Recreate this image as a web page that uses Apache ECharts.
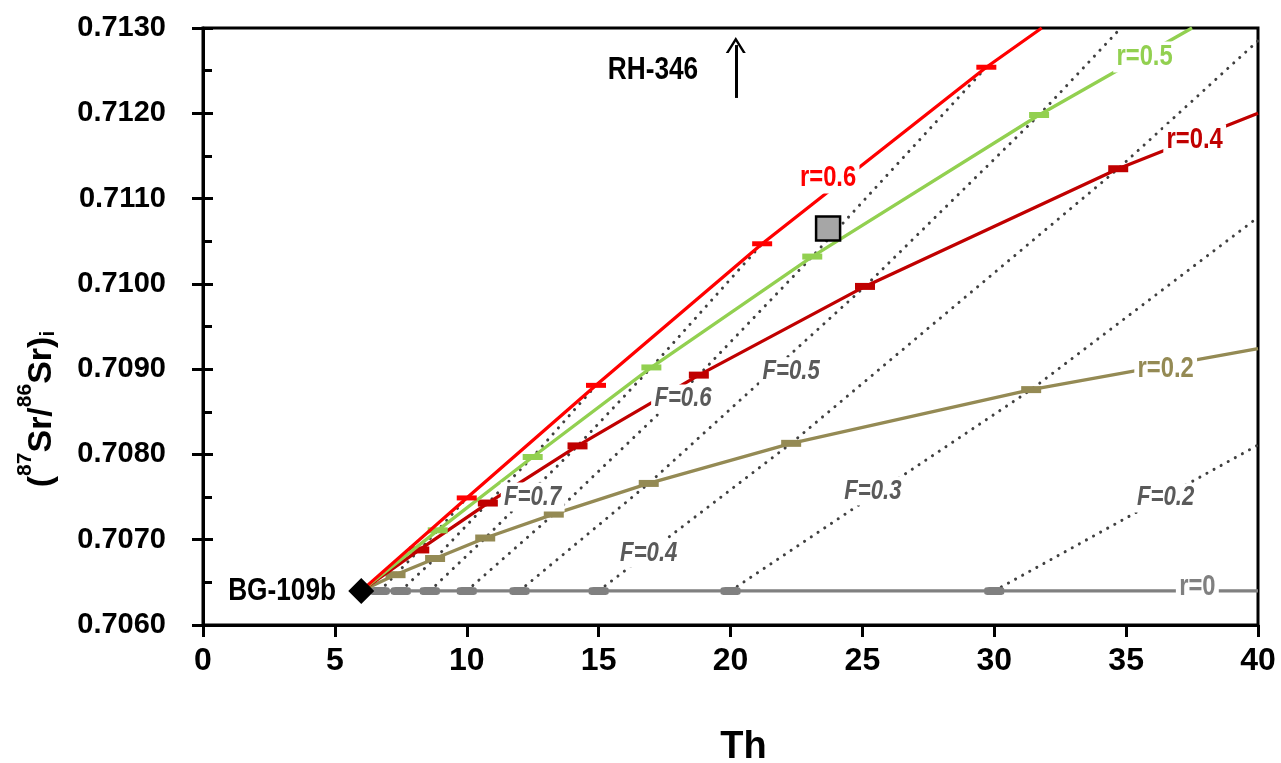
<!DOCTYPE html>
<html><head><meta charset="utf-8">
<script src="https://cdn.jsdelivr.net/npm/echarts/dist/echarts.min.js"></script>
<style>html,body{margin:0;padding:0;background:#fff}#c{width:1281px;height:763px}</style>
</head><body><div id="c"></div>
<script>
// ---------------- data ----------------
const F_LEVELS = ['0.9','0.8','0.7','0.6','0.5','0.4','0.3','0.2'];
const startTh = 6.0, startSr = 0.7064;           // BG-109b
// F tick marks on each AFC curve (index = F level above)
const r0Th  = [6.7, 7.5, 8.6, 10.0, 12.0, 15.0, 20.0, 30.0];
const r0Sr  = [0.7064, 0.7064, 0.7064, 0.7064, 0.7064, 0.7064, 0.7064, 0.7064];
const r02Th = [7.3, 8.8, 10.7, 13.3, 16.9, 22.3, 31.4];
const r02Sr = [0.70659, 0.70678, 0.70702, 0.70730, 0.70766, 0.70813, 0.70876];
const r04Th = [8.2, 10.8, 14.2, 18.8, 25.1, 34.7];
const r04Sr = [0.70688, 0.70743, 0.70810, 0.70893, 0.70997, 0.71135];
const r05Th = [8.9, 12.5, 17.0, 23.1, 31.7];
const r05Sr = [0.70711, 0.70797, 0.70902, 0.71032, 0.71198];
const r06Th = [10.0, 14.9, 21.2, 29.7];
const r06Sr = [0.70749, 0.70881, 0.71047, 0.71254];
// where each curve leaves the frame
const curveEndTh = [40, 40, 40, 37.5, 31.8];
const curveEndSr = [0.7064, 0.70924, 0.71200, 0.7130, 0.7130];
// where F isopleths leave the frame (null = ends on r=0.6 curve)
const isoEndTh = [null, null, null, null, 34.8, 40, 40, 40];
const isoEndSr = [null, null, null, null, 0.7130, 0.71285, 0.71078, 0.70811];
// samples
const rh346 = [23.7, 0.71065];
const xTicks = [0, 5, 10, 15, 20, 25, 30, 35, 40];
const yTicks = [0.7060, 0.7070, 0.7080, 0.7090, 0.7100, 0.7110, 0.7120, 0.7130];
// annotation anchor points
const rLabels = [['r=0', 37.7, 0.70645], ['r=0.2', 36.5, 0.70900], ['r=0.4', 37.6, 0.71169], ['r=0.5', 35.7, 0.71266], ['r=0.6', 23.7, 0.71124]];
const fLabels = [['F=0.7', 12.5, 0.70750], ['F=0.6', 18.2, 0.70865], ['F=0.5', 22.3, 0.70897], ['F=0.4', 16.9, 0.70684], ['F=0.3', 25.4, 0.70757], ['F=0.2', 36.5, 0.70749]];
const sampleLabels = [['BG-109b', 3.0, 0.7064], ['RH-346', 17.06, 0.71251]];
const arrowTh = 20.2, arrowSr = [0.71218, 0.71280];

// ---------------- styling ----------------
const SANS = "'Liberation Sans',Arial,sans-serif";
const NARROW_SCALE = 0.82;   // emulate a condensed face
const curves = [
  {name:'r=0',   th:r0Th,  sr:r0Sr,  color:'#808080', sym:'roundRect', size:[20,8]},
  {name:'r=0.2', th:r02Th, sr:r02Sr, color:'#948A54', sym:'rect', size:[20,7]},
  {name:'r=0.4', th:r04Th, sr:r04Sr, color:'#C00000', sym:'rect', size:[20,7]},
  {name:'r=0.5', th:r05Th, sr:r05Sr, color:'#92D050', sym:'rect', size:[20,6]},
  {name:'r=0.6', th:r06Th, sr:r06Sr, color:'#FF0000', sym:'rect', size:[20,5]}
];
const pts = (th, sr) => th.map((t, i) => [t, sr[i]]);

const series = [];
F_LEVELS.forEach((f, i) => {
  const d = [];
  curves.forEach(c => { if (c.th[i] !== undefined) d.push([c.th[i], c.sr[i]]); });
  if (isoEndTh[i] !== null) d.push([isoEndTh[i], isoEndSr[i]]);
  series.push({type:'line', name:'F='+f, data:d, symbol:'none', silent:true, z:2,
    lineStyle:{color:'#404040', width:3, type:[0.1, 8], cap:'round'}});
});
curves.forEach((c, k) => {
  series.push({type:'line', name:c.name, data:[[startTh, startSr]].concat(pts(c.th, c.sr), [[curveEndTh[k], curveEndSr[k]]]),
    symbol:'none', z:3 + k, lineStyle:{color:c.color, width:3.3}});
  series.push({type:'scatter', data:pts(c.th, c.sr), symbol:c.sym, symbolSize:c.size, z:3 + k,
    itemStyle:{color:c.color, opacity:1}});
});
series.push({type:'scatter', data:[[startTh, startSr]], symbol:'diamond', symbolSize:26, z:20, itemStyle:{color:'#000', opacity:1}});
series.push({type:'scatter', data:[rh346], symbol:'rect', symbolSize:24, z:20,
  itemStyle:{color:'#A6A6A6', borderColor:'#000', borderWidth:2.5, opacity:1}});
// arrow for RH-346 (off-scale)
series.push({type:'line', data:[], z:20, silent:true,
  markLine:{silent:true, symbol:['none','path://M0,16 L10,0 L20,16 L17.2,16 L10,4.5 L2.8,16 Z'], symbolSize:[20,16],
    label:{show:false}, lineStyle:{color:'#000', width:3, type:'solid', opacity:1},
    data:[[{coord:[arrowTh, arrowSr[0]]}, {coord:[arrowTh, arrowSr[1]]}]]}});

const chart = echarts.init(document.getElementById('c'), null, {renderer:'canvas'});
chart.setOption({
  animation:false,
  backgroundColor:'#fff',
  grid:{left:203, right:23, top:28, bottom:138, show:true, borderColor:'#000', borderWidth:3, outerBoundsMode:'none'},
  xAxis:{type:'value', min:xTicks[0], max:xTicks[xTicks.length-1], interval:5,
    name:'Th', nameLocation:'middle', nameGap:104,
    nameTextStyle:{fontFamily:SANS, fontWeight:'bold', fontSize:38, color:'#000', padding:[0,0,0,26]},
    axisLine:{lineStyle:{color:'#000', width:3}},
    axisTick:{length:12, lineStyle:{color:'#000', width:3}},
    axisLabel:{fontFamily:SANS, fontWeight:'bold', fontSize:32, color:'#000', margin:20, showMinLabel:true, showMaxLabel:true},
    splitLine:{show:false}},
  yAxis:[
    {type:'value', min:yTicks[0], max:yTicks[yTicks.length-1], interval:0.001,
     axisLine:{lineStyle:{color:'#000', width:3}},
     axisTick:{length:11, lineStyle:{color:'#000', width:3}},
     axisLabel:{fontFamily:SANS, fontWeight:'bold', fontSize:29, color:'#000', margin:37,
       formatter:v => v.toFixed(4), showMinLabel:true, showMaxLabel:true},
     splitLine:{show:false}},
    {type:'value', min:yTicks[0], max:yTicks[yTicks.length-1], interval:0.001, position:'left',
     axisLine:{show:false},
     axisTick:{inside:true, length:10, lineStyle:{color:'#000', width:3}},
     minorTick:{show:true, splitNumber:2, length:9, lineStyle:{color:'#000', width:3}},
     axisLabel:{show:false}, splitLine:{show:false}}
  ],
  series:series
});

// text annotations, anchored in data space, drawn as condensed text
const px = (x, y) => chart.convertToPixel({xAxisIndex:0, yAxisIndex:0}, [x, y]);
const g = [];
function addText(txt, x, y, color, size, italic, bg) {
  const p = px(x, y);
  g.push({type:'text', x:p[0], y:p[1], scaleX:NARROW_SCALE, z:100, silent:true,
    style:{text:txt, fill:color, fontFamily:SANS, fontWeight:'bold', fontSize:size, fontStyle:italic ? 'italic' : 'normal',
      align:'center', verticalAlign:'middle', backgroundColor:bg ? '#fff' : 'transparent', padding:[1,4]}});
}
rLabels.forEach((l, i) => addText(l[0], l[1], l[2], curves[i].color, 29, false, true));
fLabels.forEach(l => addText(l[0], l[1], l[2], '#5A5A5A', 27, true, true));
sampleLabels.forEach(l => addText(l[0], l[1], l[2], '#000', 32, false, false));
g.push({type:'text', x:37, y:409, rotation:Math.PI/2, z:100,
  style:{text:'{m|(}{s|87}{m|Sr/}{s|86}{m|Sr)}{b|i}', align:'center', verticalAlign:'middle', fill:'#000',
    rich:{m:{fontSize:34, fontWeight:'bold', fontFamily:SANS, lineHeight:44, verticalAlign:'bottom'},
          s:{fontSize:21, fontWeight:'bold', fontFamily:SANS, lineHeight:44, verticalAlign:'top'},
          b:{fontSize:21, fontWeight:'bold', fontFamily:SANS, lineHeight:36, verticalAlign:'bottom'}}}});
chart.setOption({graphic:g});
</script></body></html>
